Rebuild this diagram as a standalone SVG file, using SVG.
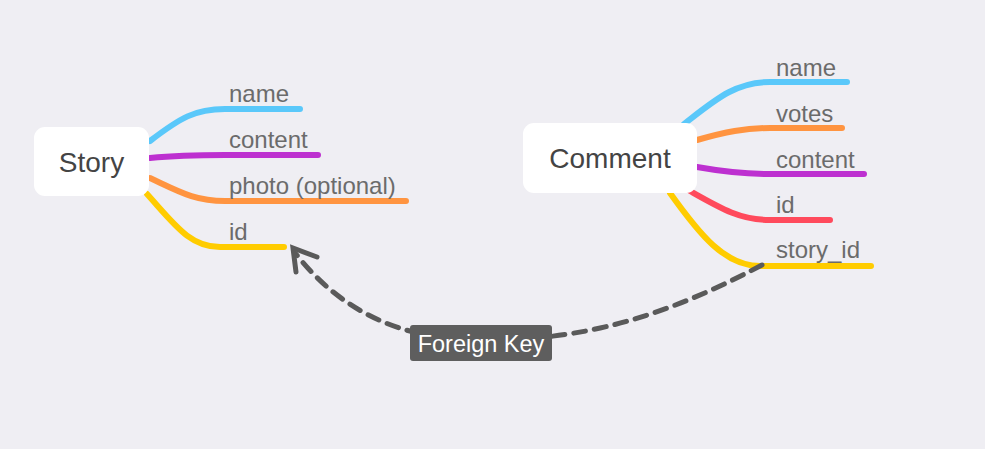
<svg xmlns="http://www.w3.org/2000/svg" width="985" height="449" viewBox="0 0 985 449">
<defs>
<style>
.node rect{fill:#ffffff}
.node text{font-family:"Liberation Sans",Arial,sans-serif;font-size:28px;fill:#444444;text-anchor:middle}
.f{font-family:"Liberation Sans",Arial,sans-serif;font-size:24px;fill:#6b6b6b}
.br{fill:none;stroke-width:6;stroke-linecap:round}
.blue{stroke:#5ac8fa}.purple{stroke:#bd30d0}.orange{stroke:#ff9440}.yellow{stroke:#ffcc00}.red{stroke:#ff4a5c}
.fk{fill:none;stroke:#5a5a5a;stroke-width:5;stroke-linecap:round}
</style>
</defs>
<rect width="985" height="449" fill="#efeef3"/>
<g id="branches">
<path class="br blue" d="M150,141 C180,118 195,109 225,109 L300,109"/>
<path class="br purple" d="M150,158 C180,155 200,155 225,155 L318,155"/>
<path class="br orange" d="M150,178 C180,192 195,201 225,201 L406,201"/>
<path class="br yellow" d="M147,194 C175,225 190,247 220,247 L284,247"/>
<path class="br blue" d="M684,124 C715,100 735,82 770,82 L847,82"/>
<path class="br orange" d="M697,140 C725,132 745,128 770,128 L842,128"/>
<path class="br purple" d="M697,167 C725,172 745,174 770,174 L864,174"/>
<path class="br red" d="M690,191 C720,208 740,220 770,220 L830,220"/>
<path class="br yellow" d="M670,193 C700,235 725,266 760,266 L871,266"/>
</g>
<g id="story" class="node">
<rect x="34" y="127" width="115" height="69" rx="11"/>
<text x="91.5" y="172">Story</text>
</g>
<g id="comment" class="node">
<rect x="523" y="123" width="174" height="70" rx="11"/>
<text x="610" y="168">Comment</text>
</g>
<g id="fields">
<text class="f" x="229" y="102">name</text>
<text class="f" x="229" y="148">content</text>
<text class="f" x="229" y="194">photo (optional)</text>
<text class="f" x="229" y="240">id</text>
<text class="f" x="776" y="76">name</text>
<text class="f" x="776" y="122">votes</text>
<text class="f" x="776" y="168">content</text>
<text class="f" x="776" y="213">id</text>
<text class="f" x="776" y="258">story_id</text>
</g>
<g id="connectors">
<path class="fk" stroke-dasharray="12 9" d="M762,265 C640,330 560,340 480,340 C400,340 340,310 296,254"/>
<path class="fk" d="M317,257 L293,248 L296,272"/>
</g>
<g id="fk-label">
<rect x="410" y="325" width="142" height="36" rx="3" fill="#5e5e5e"/>
<text x="481" y="352" font-family="Liberation Sans,Arial,sans-serif" font-size="23.5" fill="#ffffff" text-anchor="middle">Foreign Key</text>
</g>
</svg>
